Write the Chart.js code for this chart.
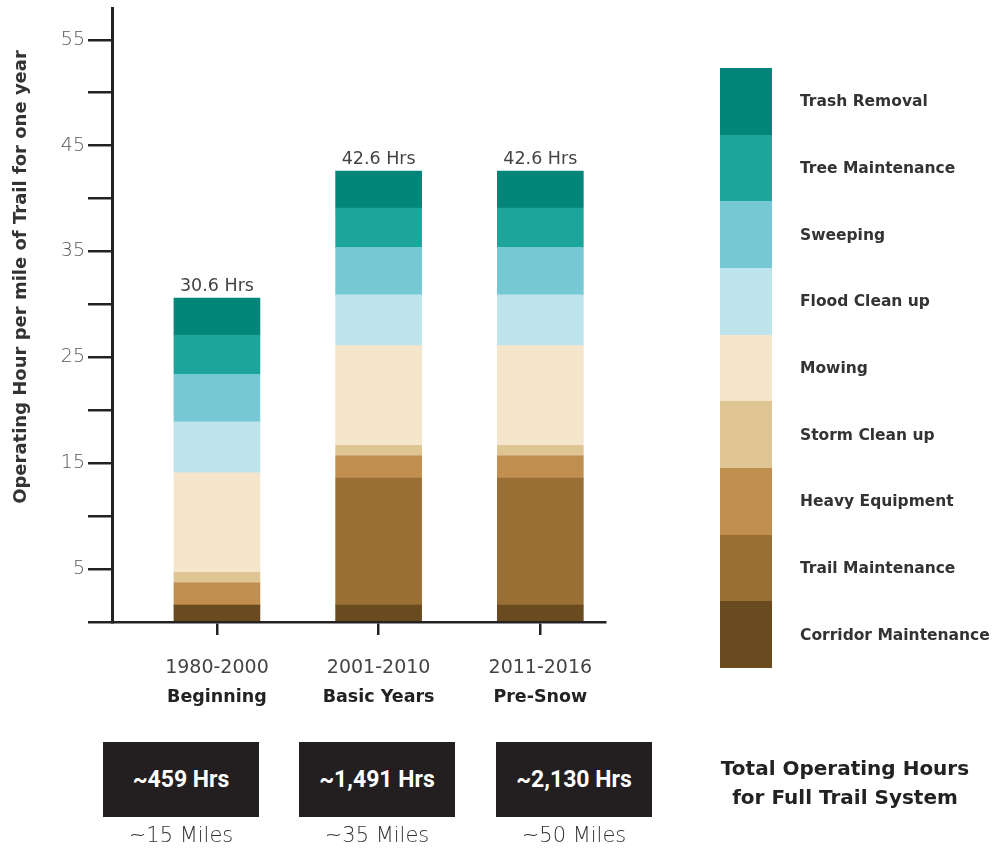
<!DOCTYPE html>
<html>
<head>
<meta charset="utf-8">
<script src="https://cdn.jsdelivr.net/npm/chart.js@4.4.1/dist/chart.umd.min.js"></script>
<style>
  html, body { margin: 0; padding: 0; background: #fff; }
  #wrap { position: relative; width: 995px; height: 851px; overflow: hidden; }
  #c { position: absolute; left: 0; top: 0; }
  #legend { position: absolute; left: 720px; top: 68px; width: 275px; }
  .lg-row { position: relative; height: 66.67px; }
  .lg-sw { position: absolute; left: 0; top: 0; width: 52px; height: 100%; }
  .lg-tx { position: absolute; left: 80px; top: 50%; transform: translateY(-50%);
           font: bold 15.5px "DejaVu Sans", sans-serif; color: #333; white-space: nowrap; }
  .sys-box { position: absolute; top: 742px; width: 156px; height: 75px; background: #231f20;
             color: #fff; font: bold 23px Roboto, "DejaVu Sans", sans-serif;
             display: flex; align-items: center; justify-content: center; }
  .miles { position: absolute; top: 823px; width: 200px; text-align: center;
           font: 200 21px "DejaVu Sans", sans-serif; color: #333; }
  #sysTitle { position: absolute; left: 695px; top: 754px; width: 300px; text-align: center;
              font: bold 20px "DejaVu Sans", sans-serif; color: #222; line-height: 29px; }
</style>
</head>
<body>
<div id="wrap">
  <canvas id="c" width="995" height="851"></canvas>
  <div id="legend"></div>
  <div id="bottom"></div>
  <div id="sysTitle">Total Operating Hours<br>for Full Trail System</div>
</div>
<script>
// Periods along the x axis
const periods = ['1980-2000', '2001-2010', '2011-2016'];
const eras = ['Beginning', 'Basic Years', 'Pre-Snow'];

// Operating hours per mile of trail per year, by task
const corridorMaintenance = [1.6, 1.6, 1.6];
const trailMaintenance    = [0.0, 12.0, 12.0];
const heavyEquipment      = [2.1, 2.1, 2.1];
const stormCleanUp        = [1.0, 1.0, 1.0];
const mowing              = [9.4, 9.4, 9.4];
const floodCleanUp        = [4.8, 4.8, 4.8];
const sweeping            = [4.5, 4.5, 4.5];
const treeMaintenance     = [3.7, 3.7, 3.7];
const trashRemoval        = [3.5, 3.5, 3.5];

// Whole-system totals and trail length per period
const systemHours = ['~459 Hrs', '~1,491 Hrs', '~2,130 Hrs'];
const trailMiles = ['~15 Miles', '~35 Miles', '~50 Miles'];

// Y axis ticks (labels only on 5, 15, 25 ...)
const yTicks = [0, 5, 10, 15, 20, 25, 30, 35, 40, 45, 50, 55];

// Stacked from the bottom up
const series = [
  { label: 'Corridor Maintenance', data: corridorMaintenance, color: '#6a4a1f' },
  { label: 'Trail Maintenance',    data: trailMaintenance,    color: '#9a6f36' },
  { label: 'Heavy Equipment',      data: heavyEquipment,      color: '#c08f50' },
  { label: 'Storm Clean up',       data: stormCleanUp,        color: '#e0c594' },
  { label: 'Mowing',               data: mowing,              color: '#f4e5cb' },
  { label: 'Flood Clean up',       data: floodCleanUp,        color: '#bee4ec' },
  { label: 'Sweeping',             data: sweeping,            color: '#76c9d4' },
  { label: 'Tree Maintenance',     data: treeMaintenance,     color: '#1ba59b' },
  { label: 'Trash Removal',        data: trashRemoval,        color: '#03857a' }
];

const totals = periods.map((_, i) => series.reduce((s, d) => s + d.data[i], 0));

const annotate = {
  id: 'annotate',
  afterDraw(chart) {
    const { ctx } = chart;
    const xs = chart.scales.x, ys = chart.scales.y;
    ctx.save();
    // totals above each bar
    ctx.textAlign = 'center';
    ctx.textBaseline = 'bottom';
    ctx.fillStyle = '#444';
    ctx.font = '17.5px "DejaVu Sans", sans-serif';
    totals.forEach((t, i) => {
      ctx.fillText(t.toFixed(1) + ' Hrs', xs.getPixelForValue(i), ys.getPixelForValue(t) - 3);
    });
    // two-line period labels
    ctx.textBaseline = 'middle';
    periods.forEach((p, i) => {
      const px = xs.getPixelForValue(i);
      ctx.fillStyle = '#444';
      ctx.font = '19px "DejaVu Sans", sans-serif';
      ctx.fillText(p, px, 668);
      ctx.fillStyle = '#222';
      ctx.font = 'bold 17.5px "DejaVu Sans", sans-serif';
      ctx.fillText(eras[i], px, 697);
    });
    // rotated y axis title
    ctx.translate(21, 277);
    ctx.rotate(-Math.PI / 2);
    ctx.fillStyle = '#333';
    ctx.font = 'bold 18px "DejaVu Sans", sans-serif';
    ctx.fillText('Operating Hour per mile of Trail for one year', 0, 0);
    ctx.restore();
  }
};

new Chart(document.getElementById('c'), {
  type: 'bar',
  data: {
    datasets: series.map(s => ({
      label: s.label,
      data: s.data.map((v, i) => ({ x: i, y: v })),
      backgroundColor: s.color,
      borderWidth: 0,
      barThickness: 86
    }))
  },
  options: {
    responsive: false,
    animation: false,
    layout: { padding: { top: 8, right: 390, bottom: 209, left: 0 } },
    plugins: { legend: { display: false }, tooltip: { enabled: false } },
    scales: {
      x: {
        type: 'linear',
        stacked: true,
        offset: false,
        min: -0.649,
        max: 2.4,
        z: 1,
        afterBuildTicks(s) { s.ticks = [0, 1, 2].map(v => ({ value: v })); },
        afterFit(s) { s.height = 20; s.paddingLeft = 0; s.paddingRight = 0; },
        ticks: { callback: () => '' },
        grid: { offset: false, drawOnChartArea: false, drawTicks: true, tickLength: 13, color: '#222', lineWidth: 2.5 },
        border: { display: true, color: '#222', width: 2.5 }
      },
      y: {
        stacked: true,
        min: 0,
        max: 58,
        z: 1,
        afterBuildTicks(s) { s.ticks = yTicks.map(v => ({ value: v })); },
        afterFit(s) { s.width = 112; s.paddingTop = 0; s.paddingBottom = 0; },
        ticks: {
          padding: 3,
          color: '#555',
          font: { family: '"DejaVu Sans", sans-serif', size: 19, weight: '300' },
          callback: v => (v % 10 === 5 ? String(v) : '')
        },
        grid: { drawOnChartArea: false, drawTicks: true, tickLength: 24, color: '#222', lineWidth: 2.5 },
        border: { display: true, color: '#222', width: 3 }
      }
    }
  },
  plugins: [annotate]
});

// legend column, top entry first
const legend = document.getElementById('legend');
series.slice().reverse().forEach(s => {
  const row = document.createElement('div');
  row.className = 'lg-row';
  row.innerHTML = '<div class="lg-sw" style="background:' + s.color + '"></div><div class="lg-tx">' + s.label + '</div>';
  legend.appendChild(row);
});

// system totals boxes
const bottom = document.getElementById('bottom');
const boxLeft = [103, 299, 496];
systemHours.forEach((h, i) => {
  const b = document.createElement('div');
  b.className = 'sys-box';
  b.style.left = boxLeft[i] + 'px';
  b.textContent = h;
  bottom.appendChild(b);
  const m = document.createElement('div');
  m.className = 'miles';
  m.style.left = (boxLeft[i] + 78 - 100) + 'px';
  m.textContent = trailMiles[i];
  bottom.appendChild(m);
});
</script>
</body>
</html>
